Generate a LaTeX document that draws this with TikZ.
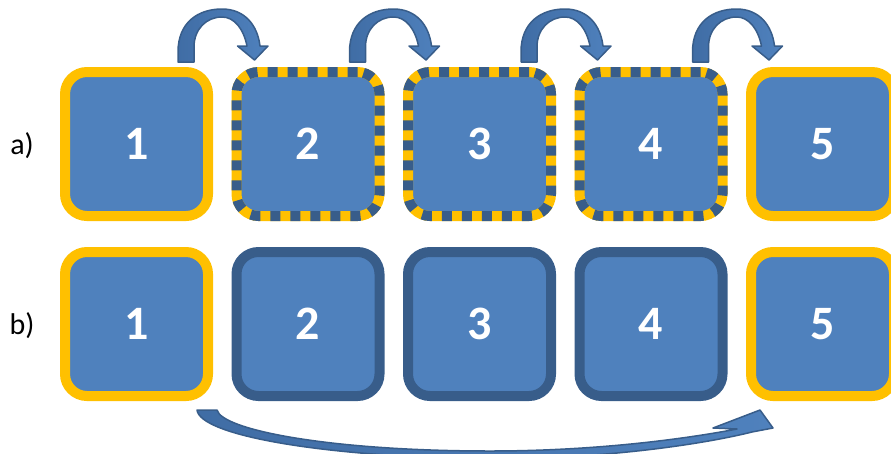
\documentclass[tikz,border=0pt]{standalone}
\usepackage{fontspec}
\setmainfont{Carlito}
\definecolor{boxblue}{HTML}{4F81BD}
\definecolor{edgeblue}{HTML}{385D8A}
\definecolor{arrowdark}{HTML}{406DA5}
\definecolor{amber}{HTML}{FFC000}
\tikzset{
  tile/.style={rectangle, rounded corners=22pt, minimum width=143pt, minimum height=144pt,
    inner sep=0pt, fill=boxblue, line width=10pt, text=white,
    font=\bfseries\fontsize{48}{48}\selectfont},
  goldtile/.style={tile, draw=amber},
  darktile/.style={tile, draw=edgeblue},
  stripetile/.style={tile, draw=amber,
    postaction={draw=edgeblue, line width=10pt, dash pattern=on 10pt off 10pt,
      rounded corners=22pt}},
  rowlabel/.style={font=\fontsize{30}{30}\selectfont, text=black},
  bentarrow/.style={left color=arrowdark, right color=boxblue, draw=edgeblue,
    line width=1.5pt, line join=round},
}
\begin{document}
\begin{tikzpicture}[x=1pt, y=-1pt]
\useasboundingbox (0,0) rectangle (891,453);

% row a: a single move split into four hops
\node[goldtile]   (a1) at (136.5,144) {1};
\node[stripetile] (a2) at (308,144)   {2};
\node[stripetile] (a3) at (479.5,144) {3};
\node[stripetile] (a4) at (651,144)   {4};
\node[goldtile]   (a5) at (822.5,144) {5};
\node[rowlabel] (la) at (22,146) {a)};

% row b: one direct jump
\node[goldtile] (b1) at (136.5,324) {1};
\node[darktile] (b2) at (308,324)   {2};
\node[darktile] (b3) at (479.5,324) {3};
\node[darktile] (b4) at (651,324)   {4};
\node[goldtile] (b5) at (822.5,324) {5};
\node[rowlabel] (lb) at (22,326) {b)};

% curved hop arrows over row a
\foreach \i in {1,...,4}{
  \begin{scope}[shift={(a\i.north)}]
    \filldraw[bentarrow]
      (41.5,-5) -- (41.5,-15)
      .. controls (41.5,-45) and (62,-58) .. (85.5,-58)
      .. controls (108,-58) and (121,-42) .. (123.5,-21)
      -- (131.5,-21) -- (118,-7) -- (101,-21) -- (110.5,-21)
      .. controls (107,-38) and (98,-50) .. (85.5,-50)
      .. controls (70,-50) and (57.5,-38) .. (57.5,-20)
      -- (57.5,-5) -- cycle;
  \end{scope}
}

% long arrow under row b from tile 1 to tile 5
\begin{scope}[shift={(b1.south)}]
  \filldraw[bentarrow]
    (60.5,9) -- (80.5,9)
    .. controls (85.5,29) and (193.5,50) .. (353.5,50)
    .. controls (463.5,50) and (553.5,37) .. (600.5,28)
    -- (576.5,27) -- (623.5,9) -- (636.5,27) -- (615.5,31)
    .. controls (563.5,44) and (463.5,58) .. (353.5,58)
    .. controls (183.5,56) and (63.5,34) .. (60.5,9) -- cycle;
\end{scope}
\end{tikzpicture}
\end{document}
